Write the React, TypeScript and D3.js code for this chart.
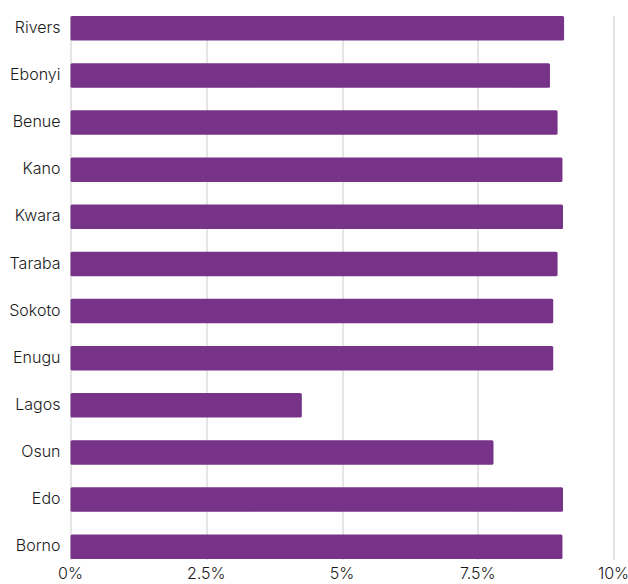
import React, { useRef, useEffect } from 'react';
import * as d3 from 'd3';

const states = ['Rivers', 'Ebonyi', 'Benue', 'Kano', 'Kwara', 'Taraba', 'Sokoto', 'Enugu', 'Lagos', 'Osun', 'Edo', 'Borno'];
const shares = [9.09, 8.83, 8.97, 9.06, 9.07, 8.97, 8.89, 8.89, 4.26, 7.79, 9.07, 9.06];
const ticks = [0, 2.5, 5, 7.5, 10];

const COLORS = {
    bar: '#763388',
    grid: '#dcdcdc',
    label: '#1a1a1a',
};

const WIDTH = 628;
const HEIGHT = 584;
const FONT = "Inter, 'Noto Sans', sans-serif";

const App: React.FC = () => {
    const ref = useRef<SVGSVGElement>(null);

    useEffect(() => {
        document.body.style.margin = '0';
        if (!ref.current) return;

        const svg = d3.select(ref.current);
        svg.selectAll("*").remove();

        const margin = { top: 16, right: 14.5, bottom: 24, left: 70.5 };
        const width = WIDTH - margin.left - margin.right;
        const height = HEIGHT - margin.top - margin.bottom;

        const g = svg.append("g").attr("transform", `translate(${margin.left},${margin.top})`);

        const x = d3.scaleLinear().domain([0, 10]).range([0, width]);
        const y = d3.scaleBand().domain(states).range([0, height - 1]).paddingInner(0.48).paddingOuter(0);

        // gridlines
        g.selectAll("line.grid")
            .data(ticks)
            .enter()
            .append("line")
            .attr("class", "grid")
            .attr("x1", d => Math.round(x(d)) + 0.5)
            .attr("x2", d => Math.round(x(d)) + 0.5)
            .attr("y1", 0)
            .attr("y2", height)
            .attr("stroke", COLORS.grid)
            .attr("stroke-width", 1.5);

        // x tick labels
        g.selectAll("text.tick")
            .data(ticks)
            .enter()
            .append("text")
            .attr("class", "tick")
            .attr("x", d => x(d))
            .attr("y", height + 19)
            .attr("text-anchor", "middle")
            .style("font-family", FONT)
            .style("font-size", "16px")
            .style("font-weight", 300)
            .style("fill", COLORS.label)
            .text(d => `${d}%`);

        // state labels
        g.selectAll("text.state")
            .data(states)
            .enter()
            .append("text")
            .attr("class", "state")
            .attr("x", -10)
            .attr("y", d => (y(d) as number) + y.bandwidth() / 2 - 1)
            .attr("dy", "0.35em")
            .attr("text-anchor", "end")
            .style("font-family", FONT)
            .style("font-size", "16px")
            .style("font-weight", 300)
            .style("fill", COLORS.label)
            .text(d => d);

        g.selectAll("rect.bar")
            .data(states)
            .enter()
            .append("rect")
            .attr("class", "bar")
            .attr("x", x(0))
            .attr("y", d => y(d) as number)
            .attr("width", (d, i) => x(shares[i]) - x(0))
            .attr("height", y.bandwidth())
            .attr("rx", 1.5)
            .attr("fill", COLORS.bar);
    }, []);

    return <svg ref={ref} width={WIDTH} height={HEIGHT} style={{ display: 'block' }}></svg>;
};

export default App;
